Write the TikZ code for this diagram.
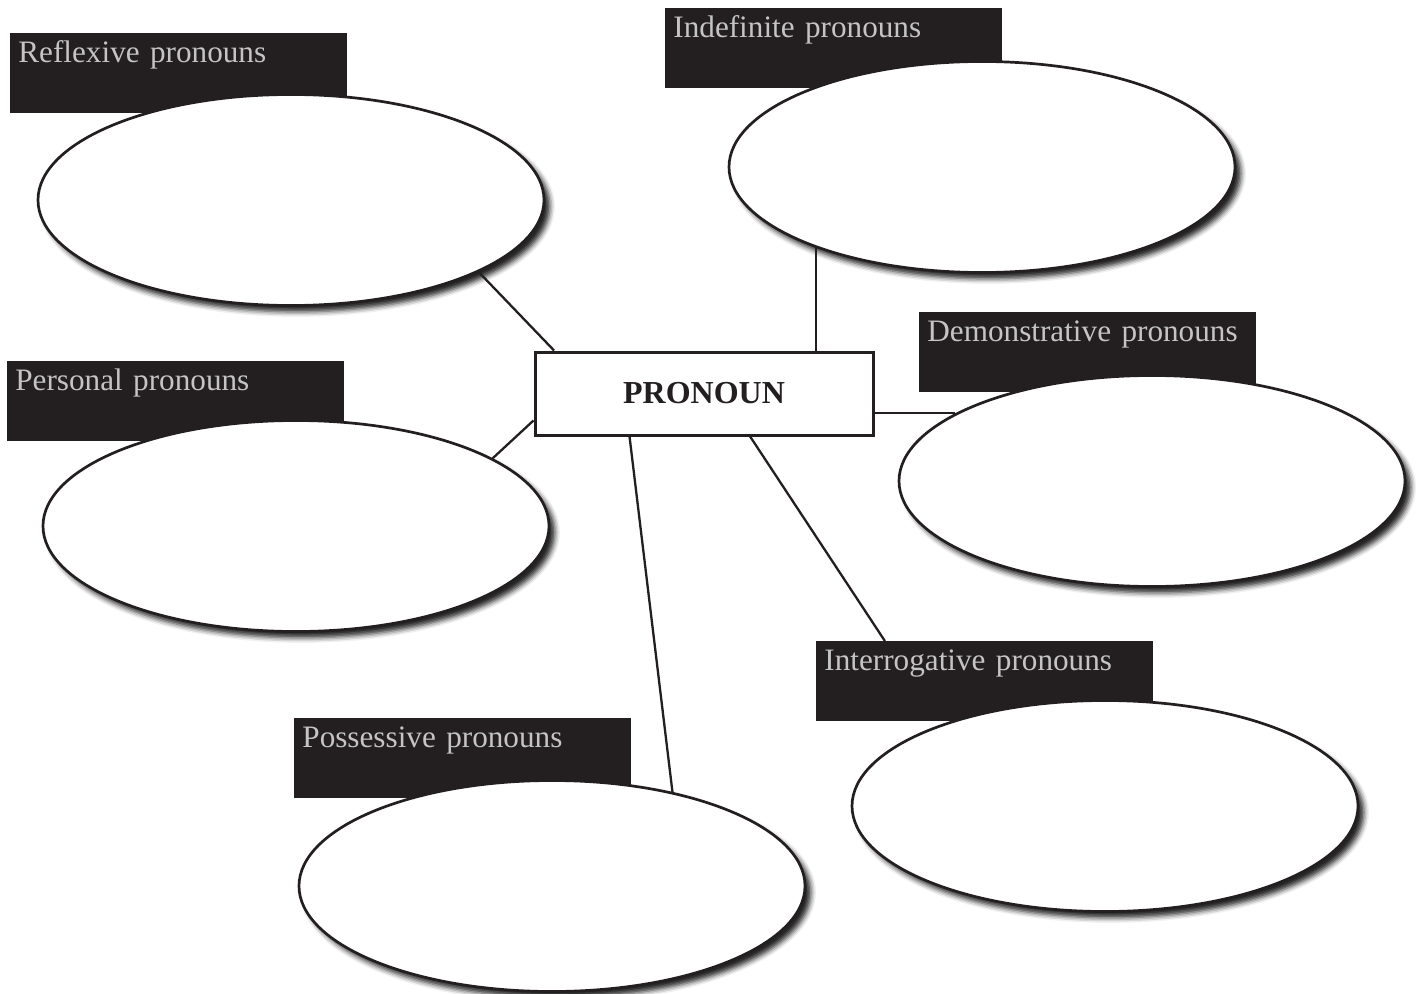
\documentclass[tikz,border=0pt]{standalone}
\usepackage{fontspec}
\setmainfont{Liberation Serif}
\usetikzlibrary{shapes.geometric,shadows.blur}
\definecolor{ink}{HTML}{231F20}
\definecolor{labtext}{HTML}{C4C4C4}
\begin{document}
\begin{tikzpicture}[x=0.5pt,y=-0.5pt,
  lab/.style={fill=ink, draw=none, text=labtext, font=\fontsize{15.6}{19}\selectfont,
    inner xsep=4pt, inner ysep=0pt, text width=160.5pt, align=left,
    text height=14.5pt, text depth=25.5pt, anchor=north west},
  oval/.style={ellipse, draw=ink, line width=1.35pt, fill=white,
    minimum width=253pt, minimum height=105.5pt, inner sep=0pt,
    blur shadow={shadow xshift=3pt, shadow yshift=-3.2pt, shadow blur radius=2.5pt, shadow opacity=85}},
  hub/.style={draw=ink, line width=1.5pt, fill=white, minimum width=169pt,
    minimum height=41.5pt, inner sep=0pt, font=\fontsize{16}{19}\selectfont\bfseries, text=ink},
  link/.style={draw=ink, line width=1.15pt}]
\useasboundingbox (0,0) rectangle (1422,994);

% label boxes
\node[lab] (lrefl) at (10,33)  {Reflexive pronouns};
\node[lab] (lindf) at (665,8)  {Indefinite pronouns};
\node[lab] (ldemo) at (919,312) {Demonstrative pronouns};
\node[lab] (lpers) at (7,361)  {Personal pronouns};
\node[lab] (lintr) at (816,641) {Interrogative pronouns};
\node[lab] (lposs) at (294,718) {Possessive pronouns};

% ovals
\node[oval] (refl) at (291,200) {};
\node[oval] (indf) at (982,167) {};
\node[oval] (demo) at (1152,481) {};
\node[oval] (pers) at (296,526) {};
\node[oval] (intr) at (1105,806) {};
\node[oval] (poss) at (552,886) {};

% hub
\node[hub] (pron) at (704,393.5) {PRONOUN};

% connectors
\draw[link] (pron.164.3) -- (refl.-21.9);
\draw[link] (indf.-154.7) -- (indf.-154.7 |- pron.north);
\draw[link] (pron.east |- demo.161.5) -- (demo.161.5);
\draw[link] (pron.189.4) -- (pers.19.6);
\draw[link] (pron.210.4) -- (poss.38.4);
\draw[link] (pron.-43) -- (lintr.158.3);
\end{tikzpicture}
\end{document}
